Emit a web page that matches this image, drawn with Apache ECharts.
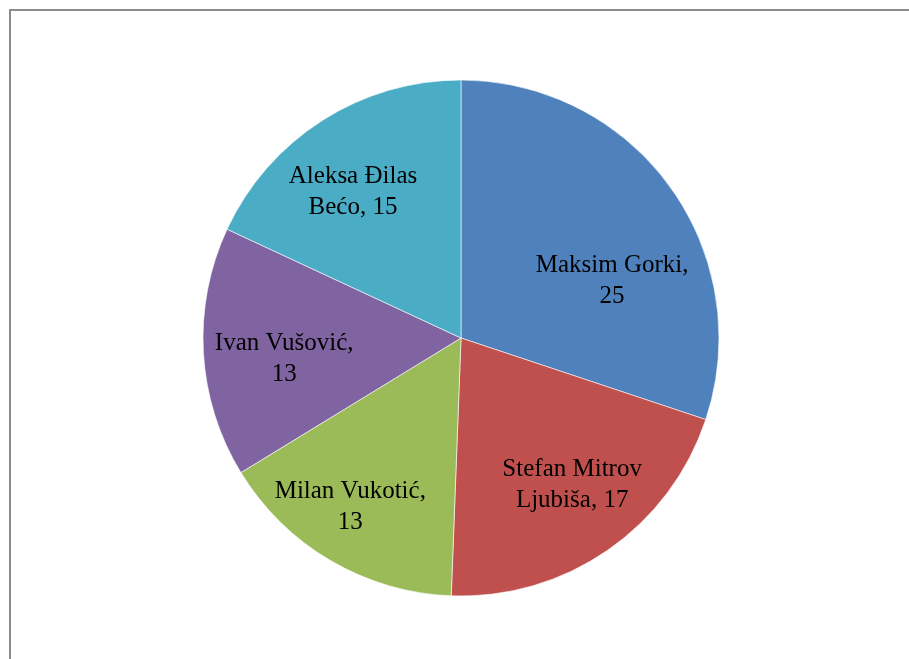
<!DOCTYPE html>
<html>
<head>
<meta charset="utf-8">
<script src="https://cdn.jsdelivr.net/npm/echarts@6/dist/echarts.min.js"></script>
<style>
  html, body { margin: 0; padding: 0; background: #fff; }
  #chart { width: 909px; height: 659px; }
</style>
</head>
<body>
<div id="chart"></div>
<script>
// data
var names = ["Maksim Gorki", "Stefan Mitrov Ljubiša", "Milan Vukotić", "Ivan Vušović", "Aleksa Đilas Bećo"];
var values = [25, 17, 13, 13, 15];
// how the label text wraps in the picture
var labelLines = [
  "Maksim Gorki,\n25",
  "Stefan Mitrov\nLjubiša, 17",
  "Milan Vukotić,\n13",
  "Ivan Vušović,\n13",
  "Aleksa Đilas\nBećo, 15"
];
var colors = ["#4f81bd", "#c0504d", "#9bbb59", "#8064a2", "#4bacc6"];
// nudge the labels to where Excel put them
var labelOffsets = [[44, 20], [36, 38], [-44, 55], [-45, 13], [-37, -35]];

var myChart = echarts.init(document.getElementById("chart"));
var options = {
  animation: false,
  backgroundColor: "#fff",
  graphic: [
    {
      type: "rect",
      shape: { x: 10, y: 10, width: 1000, height: 1000 },
      style: { fill: "none", stroke: "#8c8c8c", lineWidth: 2 },
    },
  ],
  series: [
    {
      type: "pie",
      center: [461, 338],
      radius: 258,
      startAngle: 90,
      clockwise: true,
      avoidLabelOverlap: false,
      itemStyle: { borderColor: "#fff", borderWidth: 0.6 },
      label: {
        show: true,
        position: "inside",
        color: "#000",
        fontFamily: "Liberation Serif",
        fontSize: 25,
        lineHeight: 31,
        align: "center",
        formatter: function (p) {
          return labelLines[p.dataIndex];
        },
      },
      labelLine: { show: false },
      emphasis: { disabled: true },
      data: names.map(function (n, i) {
        return {
          name: n,
          value: values[i],
          itemStyle: { color: colors[i] },
          label: { offset: labelOffsets[i] },
        };
      }),
    },
  ],
};
myChart.setOption(options);
</script>
</body>
</html>
